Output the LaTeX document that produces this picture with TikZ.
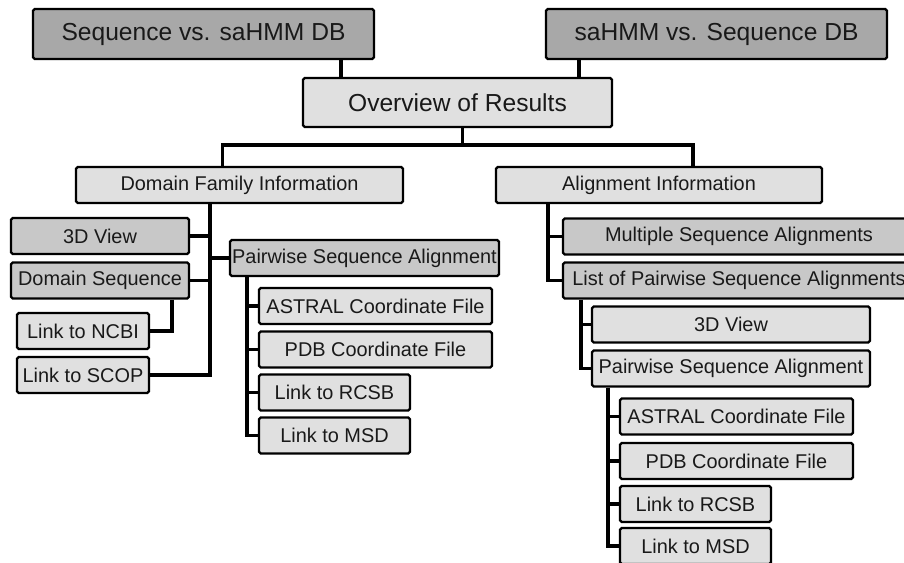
\documentclass[tikz,border=0pt]{standalone}
\usepackage{fontspec}
\setmainfont{Liberation Sans}
\definecolor{boxdark}{HTML}{A8A8A8}
\definecolor{boxmid}{HTML}{C8C8C8}
\definecolor{boxlight}{HTML}{E0E0E0}
\tikzset{
  box/.style={draw, line width=1.9pt, rounded corners=1.5pt, inner sep=0pt,
    text=black!90, minimum height=1.08cm, font=\fontsize{17}{20}\selectfont},
  topbox/.style={box, fill=boxdark, minimum height=1.5cm, font=\fontsize{21}{25}\selectfont},
  midbox/.style={box, fill=boxmid},
  leafbox/.style={box, fill=boxlight},
  link/.style={line width=2.9pt},
}
\begin{document}
\begin{tikzpicture}[x=0.03cm, y=-0.03cm]
    \clip (0,0) rectangle (904,562);

    % search modes and overview
    \node[topbox, minimum width=10.23cm] (seqdb) at (203.5,34) {Sequence vs. saHMM DB};
    \node[topbox, minimum width=10.23cm] (hmmdb) at (716.5,34) {saHMM vs. Sequence DB};
    \node[leafbox, minimum width=9.27cm, minimum height=1.47cm,
        font=\fontsize{21}{25}\selectfont] (overview) at (457.5,102.5) {Overview of Results};

    \node[leafbox, minimum width=9.81cm] (dfi) at (239.5,185) {Domain Family Information};
    \node[leafbox, minimum width=9.78cm] (ai) at (659,185) {Alignment Information};

    % domain family branch
    \node[midbox, minimum width=5.34cm] (viewL) at (100,236) {3D View};
    \node[midbox, minimum width=5.34cm] (domseq) at (100,280.5) {Domain Sequence};
    \node[leafbox, minimum width=3.96cm] (ncbi) at (83,331) {Link to NCBI};
    \node[leafbox, minimum width=3.96cm] (scop) at (83,375) {Link to SCOP};
    \node[midbox, minimum width=8.07cm] (pairL) at (364.5,258) {Pairwise Sequence Alignment};
    \node[leafbox, minimum width=6.99cm] (astralL) at (375.5,306) {ASTRAL Coordinate File};
    \node[leafbox, minimum width=6.99cm] (pdbL) at (375.5,349.5) {PDB Coordinate File};
    \node[leafbox, minimum width=4.53cm] (rcsbL) at (334.5,392.5) {Link to RCSB};
    \node[leafbox, minimum width=4.53cm] (msdL) at (334.5,435.5) {Link to MSD};

    % alignment branch
    \node[midbox, minimum width=10.56cm] (msa) at (739,236.5) {Multiple Sequence Alignments};
    \node[midbox, minimum width=10.56cm] (list) at (739,280.5) {List of Pairwise Sequence Alignments};
    \node[leafbox, minimum width=8.34cm] (viewR) at (731,324.5) {3D View};
    \node[leafbox, minimum width=8.34cm] (pairR) at (731,368.5) {Pairwise Sequence Alignment};
    \node[leafbox, minimum width=6.99cm] (astralR) at (736.5,416.5) {ASTRAL Coordinate File};
    \node[leafbox, minimum width=6.99cm] (pdbR) at (736.5,461) {PDB Coordinate File};
    \node[leafbox, minimum width=4.53cm] (rcsbR) at (695.5,504) {Link to RCSB};
    \node[leafbox, minimum width=4.53cm] (msdR) at (695.5,546) {Link to MSD};

    % connectors
    \draw[link] ([xshift=1.17cm]overview.north west) -- ([xshift=1.17cm]overview.north west |- seqdb.south);
    \draw[link] ([xshift=-1.02cm]overview.north east) -- ([xshift=-1.02cm]overview.north east |- hmmdb.south);

    \coordinate (ovb) at ([xshift=0.15cm, yshift=-0.51cm]overview.south);
    \draw[link] ([xshift=0.15cm]overview.south) -- (ovb);
    \draw[link] ([xshift=-0.51cm]dfi.north) |- (ovb) -| ([xshift=1.02cm]ai.north);

    \coordinate (dt) at ([xshift=-0.885cm]dfi.south);
    \draw[link] (dt) |- (scop.east);
    \draw[link] (viewL.east) -- (viewL.east -| dt);
    \draw[link] (domseq.east) -- (domseq.east -| dt);
    \draw[link] (pairL.west) -- (pairL.west -| dt);
    \draw[link] ([xshift=-0.54cm]domseq.south east) |- (ncbi.east);

    \coordinate (pt) at ([xshift=0.54cm]pairL.south west);
    \draw[link] (pt) |- (msdL.west);
    \foreach \n in {astralL, pdbL, rcsbL}
        \draw[link] (\n.west) -- (\n.west -| pt);

    \coordinate (at) at ([xshift=1.59cm]ai.south west);
    \draw[link] (at) |- (list.west);
    \draw[link] (msa.west) -- (msa.west -| at);

    \coordinate (lt) at ([xshift=0.57cm]list.south west);
    \draw[link] (lt) |- (pairR.west);
    \draw[link] (viewR.west) -- (viewR.west -| lt);

    \coordinate (prt) at ([xshift=0.51cm]pairR.south west);
    \draw[link] (prt) |- (msdR.west);
    \foreach \n in {astralR, pdbR, rcsbR}
        \draw[link] (\n.west) -- (\n.west -| prt);
\end{tikzpicture}
\end{document}
